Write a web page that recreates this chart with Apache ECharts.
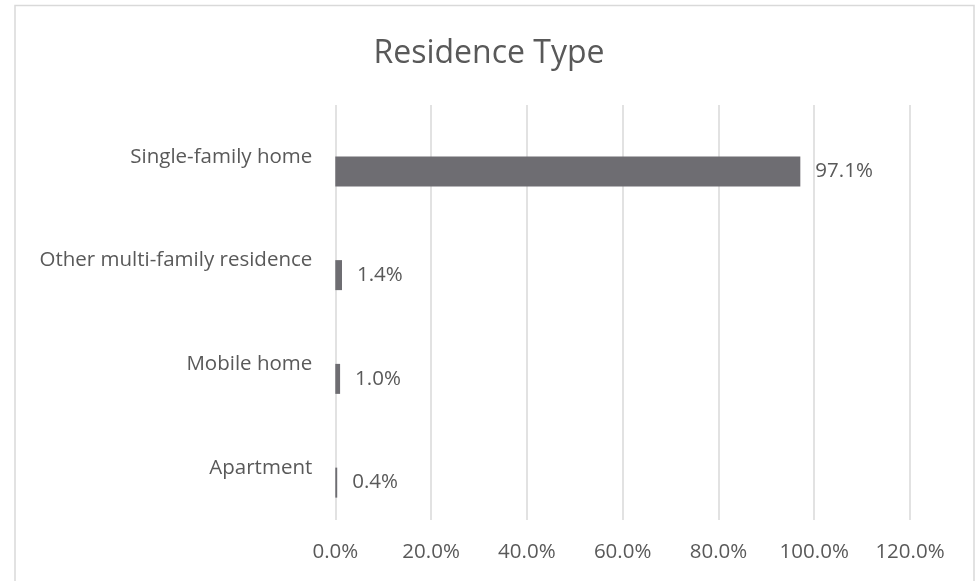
<!DOCTYPE html>
<html><head><meta charset="utf-8">
<script src="https://cdn.jsdelivr.net/npm/echarts@6/dist/echarts.min.js"></script>
<style>html,body{margin:0;padding:0;background:#fff}#c{width:978px;height:581px}</style>
</head><body><div id="c"></div>
<script>
const categories = ['Single-family home', 'Other multi-family residence', 'Mobile home', 'Apartment'];
const values = [97.1, 1.4, 1.0, 0.4];
const xTicks = [0, 20, 40, 60, 80, 100, 120];
const FONT = 'Open Sans';
const TXT = '#595959';
const chart = echarts.init(document.getElementById('c'), null, {renderer: 'canvas'});
chart.setOption({
  animation: false,
  backgroundColor: '#fff',
  title: {text: 'Residence Type', left: 'center', top: 33, textStyle: {fontFamily: FONT, fontSize: 32, fontWeight: 'normal', color: TXT}},
  graphic: [{type: 'rect', shape: {x: 15, y: 5.5, width: 959, height: 600}, style: {fill: 'none', stroke: '#D9D9D9', lineWidth: 1.5}, silent: true}],
  grid: [
    {left: 335.3, width: 574.7, top: 105, height: 415},
    {left: 335.3, width: 574.7, top: 119.5, height: 415}
  ],
  xAxis: [
    {type: 'value', gridIndex: 0, min: xTicks[0], max: xTicks[xTicks.length - 1], interval: 20,
     axisLine: {show: false}, axisTick: {show: false},
     splitLine: {show: true, lineStyle: {color: '#D9D9D9', width: 1.5}},
     axisLabel: {margin: 22, color: TXT, fontFamily: FONT, fontSize: 20.5, formatter: v => v.toFixed(1) + '%'}},
    {type: 'value', gridIndex: 1, min: xTicks[0], max: xTicks[xTicks.length - 1], show: false}
  ],
  yAxis: [
    {type: 'category', gridIndex: 0, data: categories, inverse: true,
     axisLine: {show: false}, axisTick: {show: false},
     axisLabel: {margin: 23, color: TXT, fontFamily: FONT, fontSize: 20.5}},
    {type: 'category', gridIndex: 1, data: categories, inverse: true, show: false}
  ],
  series: [{
    type: 'bar', xAxisIndex: 1, yAxisIndex: 1, data: values, barWidth: 30,
    itemStyle: {color: '#6E6D72'},
    label: {show: true, position: 'right', distance: 15, color: TXT, fontFamily: FONT, fontSize: 20.5,
            formatter: p => p.value.toFixed(1) + '%'}
  }]
});
</script></body></html>
